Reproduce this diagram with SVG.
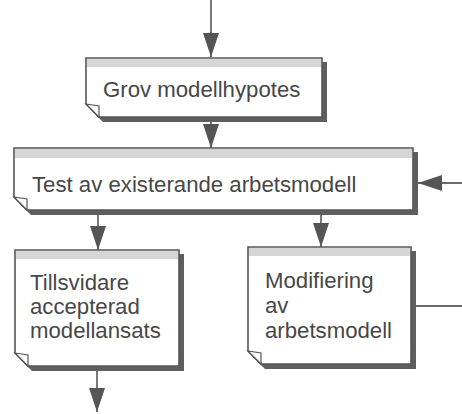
<svg xmlns="http://www.w3.org/2000/svg" width="462" height="414" viewBox="0 0 462 414">
  <style>
    .shadow { fill: #5e5e5e; }
    .page { fill: #ffffff; stroke: #555555; stroke-width: 1.6; stroke-linejoin: miter; }
    .band { fill: #d6d6d6; }
    .fold { fill: #ffffff; stroke: #555555; stroke-width: 1.2; }
    .label { font-family: "Liberation Sans", Arial, sans-serif; font-size: 22.2px; fill: #474747; }
    .wire { stroke: #6a6a6a; stroke-width: 1.8; fill: none; }
  </style>
  <defs>
    <marker id="head" viewBox="0 0 24 16" refX="24" refY="8" markerWidth="24" markerHeight="16" markerUnits="userSpaceOnUse" orient="auto">
      <path d="M0,0 L24,8 L0,16 Z" fill="#555555"/>
    </marker>
  </defs>

  <rect width="462" height="414" fill="#ffffff"/>

  <!-- connectors -->
  <g id="connectors">
    <line class="wire" x1="211" y1="0" x2="211" y2="57" marker-end="url(#head)"/>
    <line class="wire" x1="211" y1="122" x2="211" y2="148" marker-end="url(#head)"/>
    <line class="wire" x1="98" y1="215" x2="98" y2="250" marker-end="url(#head)"/>
    <line class="wire" x1="321" y1="215" x2="321" y2="247" marker-end="url(#head)"/>
    <line class="wire" x1="462" y1="183" x2="418" y2="183" marker-end="url(#head)"/>
    <line class="wire" x1="416" y1="306" x2="462" y2="306"/>
    <line class="wire" x1="97" y1="371" x2="97" y2="412" marker-end="url(#head)"/>
  </g>

  <!-- Grov modellhypotes -->
  <g id="node-grov">
    <path class="shadow" d="M91,62 H327 V122 H103 L91,110 Z"/>
    <path class="page" d="M86,58 H322 V117 H99 L86,104 Z"/>
    <rect class="band" x="87" y="59" width="234" height="8"/>
    <path class="fold" d="M86,104 L99,106 L99,117 Z"/>
    <text class="label" x="103" y="97">Grov modellhypotes</text>
  </g>

  <!-- Test av existerande arbetsmodell -->
  <g id="node-test">
    <path class="shadow" d="M19,152 H418 V215 H31 L19,203 Z"/>
    <path class="page" d="M14,148 H413 V210 H27 L14,197 Z"/>
    <rect class="band" x="15" y="149" width="397" height="9"/>
    <path class="fold" d="M14,197 L27,199 L27,210 Z"/>
    <text class="label" x="32" y="192">Test av existerande arbetsmodell</text>
  </g>

  <!-- Tillsvidare accepterad modellansats -->
  <g id="node-accepterad">
    <path class="shadow" d="M20,254 H184 V371 H32 L20,359 Z"/>
    <path class="page" d="M15,250 H179 V366 H28 L15,353 Z"/>
    <rect class="band" x="16" y="251" width="162" height="8"/>
    <path class="fold" d="M15,353 L28,355 L28,366 Z"/>
    <text class="label" x="30" y="290">Tillsvidare</text>
    <text class="label" x="30" y="314">accepterad</text>
    <text class="label" x="30" y="338">modellansats</text>
  </g>

  <!-- Modifiering av arbetsmodell -->
  <g id="node-modifiering">
    <path class="shadow" d="M253,251 H416 V369 H265 L253,357 Z"/>
    <path class="page" d="M248,247 H411 V364 H261 L248,351 Z"/>
    <rect class="band" x="249" y="248" width="161" height="8"/>
    <path class="fold" d="M248,351 L261,353 L261,364 Z"/>
    <text class="label" x="265" y="288">Modifiering</text>
    <text class="label" x="265" y="313">av</text>
    <text class="label" x="265" y="338">arbetsmodell</text>
  </g>
</svg>
